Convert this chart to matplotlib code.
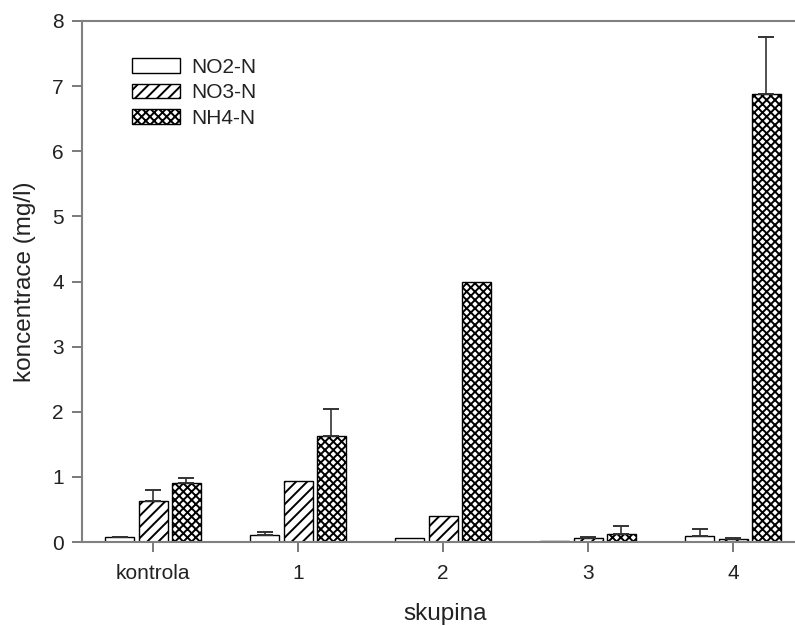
import matplotlib
matplotlib.use("Agg")
import matplotlib.pyplot as plt
import numpy as np

plt.rcParams['font.family'] = ['Liberation Sans', 'DejaVu Sans']
plt.rcParams['hatch.linewidth'] = 1.4

categories = ["kontrola", "1", "2", "3", "4"]
series_names = ["NO2-N", "NO3-N", "NH4-N"]
no2 = [0.07, 0.11, 0.06, 0.01, 0.09]
no2_err = [0.01, 0.04, 0.0, 0.0, 0.11]
no3 = [0.63, 0.94, 0.40, 0.06, 0.05]
no3_err = [0.17, 0.0, 0.0, 0.01, 0.01]
nh4 = [0.91, 1.63, 4.00, 0.13, 6.88]
nh4_err = [0.07, 0.41, 0.0, 0.12, 0.88]
yticks = [0, 1, 2, 3, 4, 5, 6, 7, 8]

W, H = 795, 626
fig = plt.figure(figsize=(W / 100, H / 100), dpi=100)
left, bottom, top = 82, 542, 21
xmin, xmax = -0.49, 4.52
px_per_unit = 145.0
right = left + (xmax - xmin) * px_per_unit
ax = fig.add_axes([left / W, 1 - bottom / H, (right - left) / W, (bottom - top) / H])

x = np.arange(len(categories))
width = 0.2
offset = 0.228
hatches = [None, '///', 'xxxx']
values = [no2, no3, nh4]
errs = [no2_err, no3_err, nh4_err]

for i, (vals, err, hatch, name) in enumerate(zip(values, errs, hatches, series_names)):
    pos = x + (i - 1) * offset
    ax.bar(pos, vals, width, color='white', edgecolor='black', linewidth=1.0,
           hatch=hatch, label=name, zorder=2)
    for p, v, e in zip(pos, vals, err):
        if e > 0:
            ax.errorbar([p], [v], yerr=[[0], [e]], fmt='none', ecolor='#333333',
                        elinewidth=1.2, capsize=5.8, capthick=1.4, zorder=3)

ax.set_xlim(xmin, xmax)
ax.set_ylim(0, 8)
ax.set_yticks(yticks)
ax.set_xticks(x)
ax.set_xticklabels(categories)
for s in ['left', 'bottom', 'top', 'right']:
    ax.spines[s].set_color('#808080')
    ax.spines[s].set_linewidth(1.5)
ax.tick_params(axis='both', direction='out', length=7, width=1.3, color='#707070',
               labelsize=15, labelcolor='#222222')
ax.tick_params(axis='y', pad=6)
ax.tick_params(axis='x', pad=9)
ax.set_xlabel('skupina', fontsize=17.5, color='#222222', labelpad=14)
ax.set_ylabel('koncentrace (mg/l)', fontsize=17.5, color='#222222', labelpad=12)

leg = ax.legend(loc='upper left', bbox_to_anchor=(132 / W, 1 - 58 / H),
                bbox_transform=fig.transFigure, frameon=False, fontsize=15,
                handlelength=2.3, handleheight=0.7, handletextpad=0.55,
                labelspacing=0.3, borderpad=0, borderaxespad=0)
for t in leg.get_texts():
    t.set_color('#222222')

fig.savefig('out.png', dpi=100)
